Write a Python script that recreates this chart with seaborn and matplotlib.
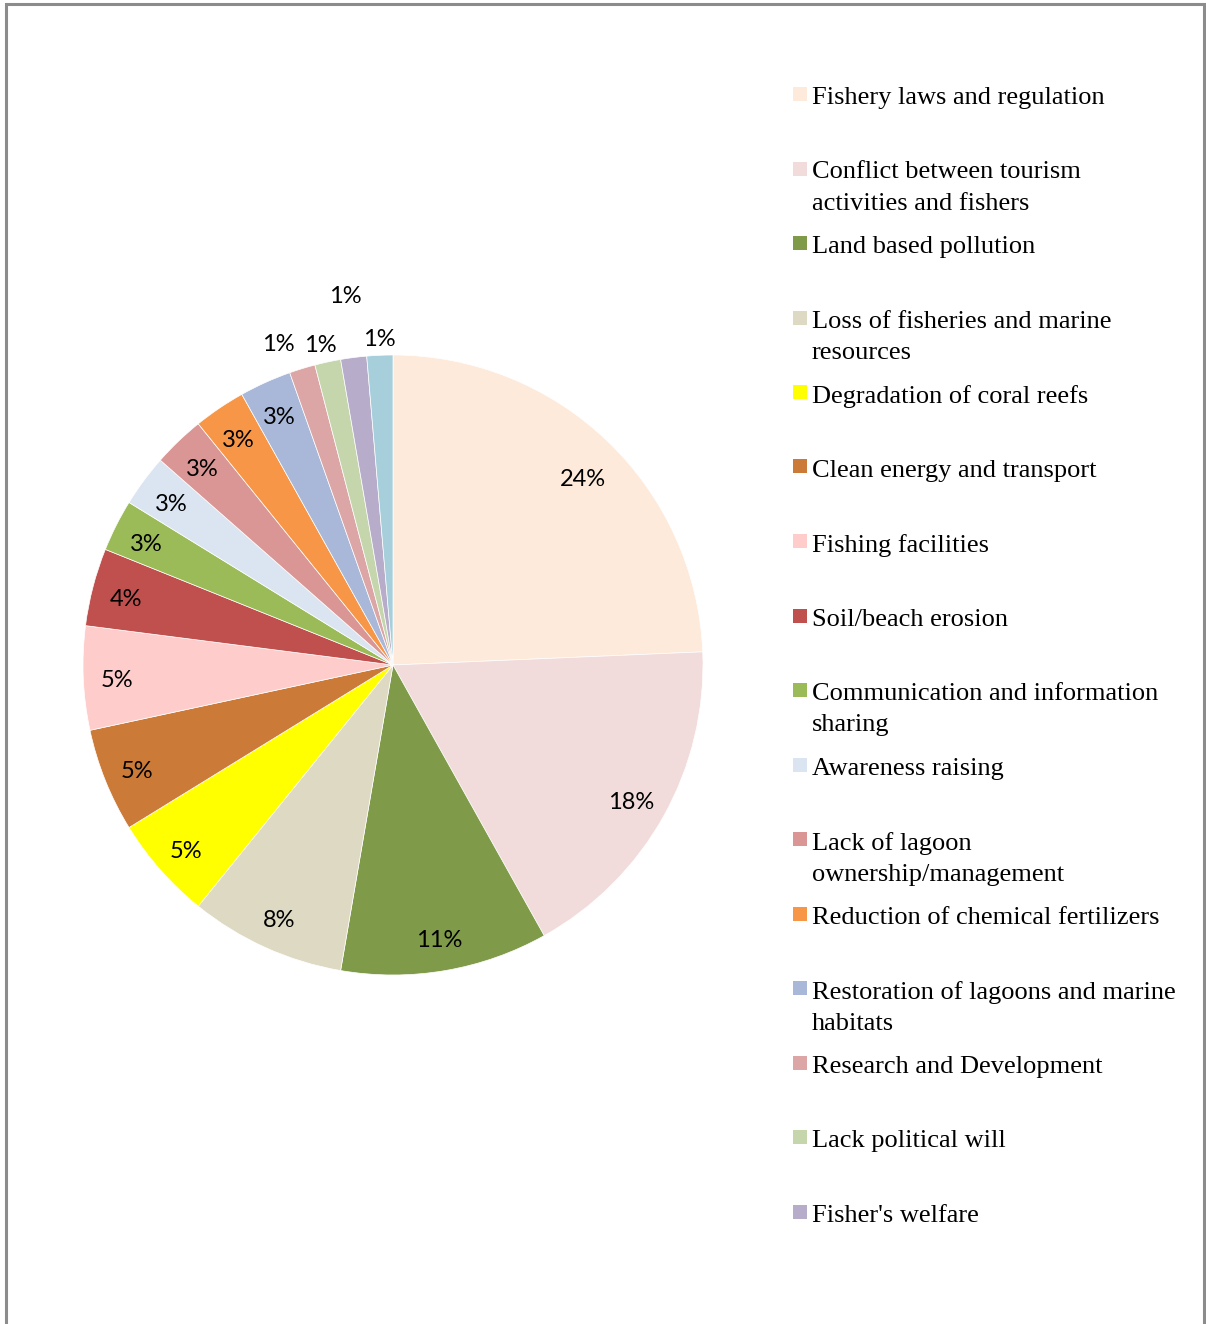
import numpy as np
import matplotlib
matplotlib.use("Agg")
import matplotlib.pyplot as plt
from matplotlib.patches import Rectangle
from matplotlib.transforms import offset_copy
import seaborn as sns

sns.set_theme(style="white")
plt.rcParams["font.family"] = ["Lato", "DejaVu Sans"]

# Number of responses per issue
categories = [
    "Fishery laws and regulation",
    "Conflict between tourism\nactivities and fishers",
    "Land based pollution",
    "Loss of fisheries and marine\nresources",
    "Degradation of coral reefs",
    "Clean energy and transport",
    "Fishing facilities",
    "Soil/beach erosion",
    "Communication and information\nsharing",
    "Awareness raising",
    "Lack of lagoon\nownership/management",
    "Reduction of chemical fertilizers",
    "Restoration of lagoons and marine\nhabitats",
    "Research and Development",
    "Lack political will",
    "Fisher's welfare",
    "Other",
]
counts = [18, 13, 8, 6, 4, 4, 4, 3, 2, 2, 2, 2, 2, 1, 1, 1, 1]
colors = [
    "#FDEADA", "#F2DCDB", "#7F9A48", "#DDD9C3", "#FFFF00", "#CC7A37",
    "#FFCCCC", "#C0504D", "#9BBB59", "#DBE5F1", "#D99694", "#F79646",
    "#A9B8D8", "#DBA6A5", "#C6D6AC", "#B7ACC9", "#A6CFDB",
]
legend_count = 16

total = sum(counts)
pct_labels = [f"{round(c / total * 100)}%" for c in counts]

W, H = 1206, 1324
fig = plt.figure(figsize=(W / 100, H / 100), dpi=100)

# page frame
fig.patches.append(Rectangle((6 / W, -0.01), 1198 / W, (H - 4) / H + 0.01,
                             transform=fig.transFigure, fill=False,
                             edgecolor="#8C8C8C", linewidth=2.2))

# pie axes: centre (393, 665) px, radius 310 px
cx, cy, r = 393, 665, 310
ax = fig.add_axes([(cx - r) / W, (H - cy - r) / H, 2 * r / W, 2 * r / H])
wedges, _ = ax.pie(counts, colors=colors, startangle=90, counterclock=False,
                   radius=1.0, wedgeprops=dict(edgecolor="white", linewidth=0.5))
ax.set_xlim(-1, 1)
ax.set_ylim(-1, 1)
ax.set_aspect("equal")
ax.axis("off")

# label placement: (distance, angular nudge in degrees)
placement = {0: (0.865, -1.4), 1: (0.88, 0), 13: (1.11, 2.5), 14: (1.07, 0.5),
             15: (1.21, 0.0), 16: (1.065, 0.0)}
label_tf = offset_copy(ax.transData, fig=fig, x=0, y=-4, units="dots")
for i, (w, lab) in enumerate(zip(wedges, pct_labels)):
    d, nudge = placement.get(i, (0.89, 0))
    ang = np.deg2rad((w.theta1 + w.theta2) / 2 + nudge)
    ax.text(d * np.cos(ang), d * np.sin(ang), lab, ha="center", va="center",
            fontsize=17, color="black", clip_on=False, transform=label_tf)

# legend entries
x_box, x_text = 793, 812
for i in range(legend_count):
    yc = 94 + i * 74.5
    fig.patches.append(Rectangle((x_box / W, 1 - (yc + 7) / H), 14 / W, 14 / H,
                                 transform=fig.transFigure, facecolor=colors[i],
                                 edgecolor="none"))
    fig.text(x_text / W, 1 - (yc - 7) / H, categories[i], ha="left", va="top",
             fontsize=19, family=["Liberation Serif", "DejaVu Serif"],
             color="black", linespacing=1.55)

fig.savefig("out.png", dpi=100, facecolor="white")
